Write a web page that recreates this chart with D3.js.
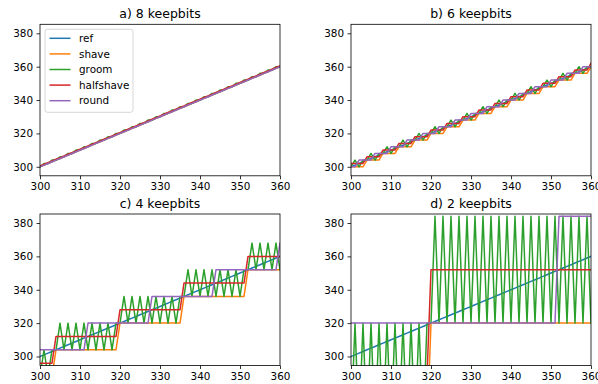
<!DOCTYPE html>
<html>
  <head>
    <meta charset="utf-8">
    <script type="text/javascript" src="https://cdn.jsdelivr.net/npm/d3@7"></script>
    <style>
      body { margin: 0; background: #fff; }
      svg { font-family: "DejaVu Sans", sans-serif; }
    </style>
  </head>
  <body>
    <script type="text/javascript">

    // Input values, also plotted as the "ref" series
    var xValues = [300,301,302,303,304,305,306,307,308,309,
                   310,311,312,313,314,315,316,317,318,319,
                   320,321,322,323,324,325,326,327,328,329,
                   330,331,332,333,334,335,336,337,338,339,
                   340,341,342,343,344,345,346,347,348,349,
                   350,351,352,353,354,355,356,357,358,359,
                   360];

    // a) 8 keepbits
    var shave8 = [300,301,302,303,304,305,306,307,308,309,
                  310,311,312,313,314,315,316,317,318,319,
                  320,321,322,323,324,325,326,327,328,329,
                  330,331,332,333,334,335,336,337,338,339,
                  340,341,342,343,344,345,346,347,348,349,
                  350,351,352,353,354,355,356,357,358,359,
                  360];
    var groom8 = [300,302,302,304,304,306,306,308,308,310,
                  310,312,312,314,314,316,316,318,318,320,
                  320,322,322,324,324,326,326,328,328,330,
                  330,332,332,334,334,336,336,338,338,340,
                  340,342,342,344,344,346,346,348,348,350,
                  350,352,352,354,354,356,356,358,358,360,
                  360];
    var halfshave8 = [300.5,301.5,302.5,303.5,304.5,305.5,306.5,307.5,308.5,309.5,
                      310.5,311.5,312.5,313.5,314.5,315.5,316.5,317.5,318.5,319.5,
                      320.5,321.5,322.5,323.5,324.5,325.5,326.5,327.5,328.5,329.5,
                      330.5,331.5,332.5,333.5,334.5,335.5,336.5,337.5,338.5,339.5,
                      340.5,341.5,342.5,343.5,344.5,345.5,346.5,347.5,348.5,349.5,
                      350.5,351.5,352.5,353.5,354.5,355.5,356.5,357.5,358.5,359.5,
                      360.5];
    var round8 = [300,301,302,303,304,305,306,307,308,309,
                  310,311,312,313,314,315,316,317,318,319,
                  320,321,322,323,324,325,326,327,328,329,
                  330,331,332,333,334,335,336,337,338,339,
                  340,341,342,343,344,345,346,347,348,349,
                  350,351,352,353,354,355,356,357,358,359,
                  360];

    // b) 6 keepbits
    var shave6 = [300,300,300,300,304,304,304,304,308,308,
                  308,308,312,312,312,312,316,316,316,316,
                  320,320,320,320,324,324,324,324,328,328,
                  328,328,332,332,332,332,336,336,336,336,
                  340,340,340,340,344,344,344,344,348,348,
                  348,348,352,352,352,352,356,356,356,356,
                  360];
    var groom6 = [300,304,300,304,304,308,304,308,308,312,
                  308,312,312,316,312,316,316,320,316,320,
                  320,324,320,324,324,328,324,328,328,332,
                  328,332,332,336,332,336,336,340,336,340,
                  340,344,340,344,344,348,344,348,348,352,
                  348,352,352,356,352,356,356,360,356,360,
                  360];
    var halfshave6 = [302,302,302,302,306,306,306,306,310,310,
                      310,310,314,314,314,314,318,318,318,318,
                      322,322,322,322,326,326,326,326,330,330,
                      330,330,334,334,334,334,338,338,338,338,
                      342,342,342,342,346,346,346,346,350,350,
                      350,350,354,354,354,354,358,358,358,358,
                      362];
    var round6 = [300,300,304,304,304,304,308,308,308,308,
                  312,312,312,312,316,316,316,316,320,320,
                  320,320,324,324,324,324,328,328,328,328,
                  332,332,332,332,336,336,336,336,340,340,
                  340,340,344,344,344,344,348,348,348,348,
                  352,352,352,352,356,356,356,356,360,360,
                  360];

    // c) 4 keepbits
    var shave4 = [288,288,288,288,304,304,304,304,304,304,
                  304,304,304,304,304,304,304,304,304,304,
                  320,320,320,320,320,320,320,320,320,320,
                  320,320,320,320,320,320,336,336,336,336,
                  336,336,336,336,336,336,336,336,336,336,
                  336,336,352,352,352,352,352,352,352,352,
                  352];
    var groom4 = [288,304,288,304,304,320,304,320,304,320,
                  304,320,304,320,304,320,304,320,304,320,
                  320,336,320,336,320,336,320,336,320,336,
                  320,336,320,336,320,336,336,352,336,352,
                  336,352,336,352,336,352,336,352,336,352,
                  336,352,352,368,352,368,352,368,352,368,
                  352];
    var halfshave4 = [296,296,296,296,312,312,312,312,312,312,
                      312,312,312,312,312,312,312,312,312,312,
                      328,328,328,328,328,328,328,328,328,328,
                      328,328,328,328,328,328,344,344,344,344,
                      344,344,344,344,344,344,344,344,344,344,
                      344,344,360,360,360,360,360,360,360,360,
                      360];
    var round4 = [304,304,304,304,304,304,304,304,304,304,
                  304,304,320,320,320,320,320,320,320,320,
                  320,320,320,320,320,320,320,320,336,336,
                  336,336,336,336,336,336,336,336,336,336,
                  336,336,336,336,352,352,352,352,352,352,
                  352,352,352,352,352,352,352,352,352,352,
                  368];

    // d) 2 keepbits
    var shave2 = [256,256,256,256,256,256,256,256,256,256,
                  256,256,256,256,256,256,256,256,256,256,
                  320,320,320,320,320,320,320,320,320,320,
                  320,320,320,320,320,320,320,320,320,320,
                  320,320,320,320,320,320,320,320,320,320,
                  320,320,320,320,320,320,320,320,320,320,
                  320];
    var groom2 = [256,320,256,320,256,320,256,320,256,320,
                  256,320,256,320,256,320,256,320,256,320,
                  320,384,320,384,320,384,320,384,320,384,
                  320,384,320,384,320,384,320,384,320,384,
                  320,384,320,384,320,384,320,384,320,384,
                  320,384,320,384,320,384,320,384,320,384,
                  320];
    var halfshave2 = [288,288,288,288,288,288,288,288,288,288,
                      288,288,288,288,288,288,288,288,288,288,
                      352,352,352,352,352,352,352,352,352,352,
                      352,352,352,352,352,352,352,352,352,352,
                      352,352,352,352,352,352,352,352,352,352,
                      352,352,352,352,352,352,352,352,352,352,
                      352];
    var round2 = [320,320,320,320,320,320,320,320,320,320,
                  320,320,320,320,320,320,320,320,320,320,
                  320,320,320,320,320,320,320,320,320,320,
                  320,320,320,320,320,320,320,320,320,320,
                  320,320,320,320,320,320,320,320,320,320,
                  320,320,384,384,384,384,384,384,384,384,
                  384];

    var titles = ["a) 8 keepbits", "b) 6 keepbits", "c) 4 keepbits", "d) 2 keepbits"];
    var seriesNames = ["ref", "shave", "groom", "halfshave", "round"];
    var xTicks = [300, 310, 320, 330, 340, 350, 360];
    var yTicks = [300, 320, 340, 360, 380];

    // matplotlib tab10 colours
    var colors = ["#1f77b4", "#ff7f0e", "#2ca02c", "#d62728", "#9467bd"];

    var panels = [
      [xValues, shave8, groom8, halfshave8, round8],
      [xValues, shave6, groom6, halfshave6, round6],
      [xValues, shave4, groom4, halfshave4, round4],
      [xValues, shave2, groom2, halfshave2, round2]
    ];

    // Layout of the 2x2 grid
    var W = 598, H = 384;
    var axW = 240, axH = 151.5;
    var lefts = [40, 351], tops = [24.3, 214];

    var svg = d3.select("body").append("svg")
      .attr("width", W)
      .attr("height", H);

    var x = d3.scaleLinear().domain([300, 360]).range([0, axW]);
    var y = d3.scaleLinear().domain([294.6, 385.4]).range([axH, 0]);

    var line = d3.line()
      .x(function(d, i) { return x(xValues[i]); })
      .y(function(d) { return y(d); });

    panels.forEach(function(series, p) {
      var g = svg.append("g")
        .attr("transform", "translate(" + lefts[p % 2] + "," + tops[Math.floor(p / 2)] + ")");

      g.append("clipPath").attr("id", "clip" + p)
        .append("rect").attr("width", axW).attr("height", axH);

      var plot = g.append("g").attr("clip-path", "url(#clip" + p + ")");
      series.forEach(function(vals, s) {
        plot.append("path")
          .datum(vals)
          .attr("d", line)
          .attr("fill", "none")
          .attr("stroke", colors[s])
          .attr("stroke-width", 1.5)
          .attr("stroke-linejoin", "round")
          .attr("stroke-linecap", "square");
      });

      // Axes
      var xAxis = g.append("g")
        .attr("transform", "translate(0," + axH + ")")
        .call(d3.axisBottom(x).tickValues(xTicks).tickSize(3.5).tickPadding(3.5));
      var yAxis = g.append("g")
        .call(d3.axisLeft(y).tickValues(yTicks).tickSize(3.5).tickPadding(3.5));
      [xAxis, yAxis].forEach(function(a) {
        a.select(".domain").remove();
        a.selectAll(".tick line").attr("stroke", "#000").attr("stroke-width", 0.8);
        a.selectAll(".tick text").attr("fill", "#000").style("font-size", "10.4px")
          .style("font-family", "DejaVu Sans");
      });

      // Frame
      g.append("rect")
        .attr("width", axW).attr("height", axH)
        .attr("fill", "none").attr("stroke", "#000").attr("stroke-width", 0.8);

      g.append("text")
        .attr("x", axW / 2).attr("y", -6)
        .attr("text-anchor", "middle")
        .style("font-size", "12.5px")
        .text(titles[p]);

      // Legend only in the first panel
      if (p === 0) {
        var leg = g.append("g").attr("transform", "translate(5,5)");
        leg.append("rect")
          .attr("width", 88).attr("height", 83).attr("rx", 2.5)
          .attr("fill", "#fff").attr("fill-opacity", 0.8)
          .attr("stroke", "#cccccc").attr("stroke-width", 0.8);
        seriesNames.forEach(function(name, s) {
          var yy = 9 + s * 15.6;
          leg.append("line")
            .attr("x1", 4.5).attr("x2", 25.5).attr("y1", yy).attr("y2", yy)
            .attr("stroke", colors[s]).attr("stroke-width", 1.5);
          leg.append("text")
            .attr("x", 34).attr("y", yy + 3.8)
            .style("font-size", "10.4px")
            .text(name);
        });
      }
    });
    </script>
  </body>
</html>
